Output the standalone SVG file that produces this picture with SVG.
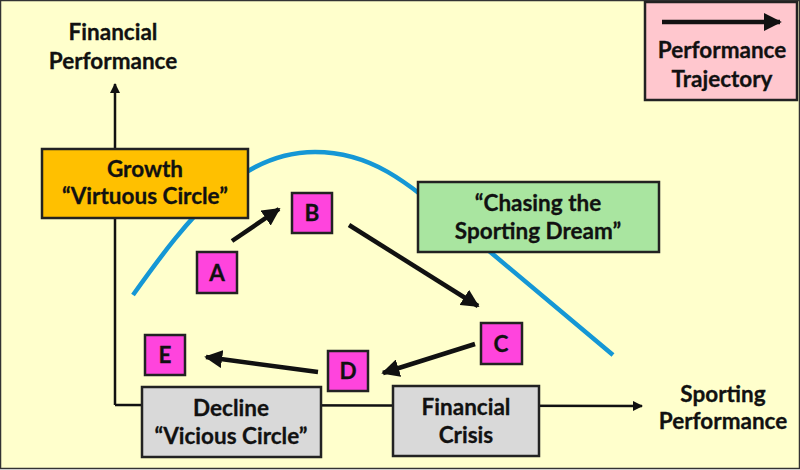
<svg xmlns="http://www.w3.org/2000/svg" width="800" height="470" viewBox="0 0 800 470">
<defs>
<style>
.t{font-family:Lato,"Liberation Sans",sans-serif;font-weight:bold;font-size:22.5px;fill:#111;text-anchor:middle;stroke:#111;stroke-width:0.3}
.box{stroke:#222;stroke-width:2.5}
.sq{fill:#FF44DD;stroke:#222;stroke-width:2.5}
.axis{stroke:#111;stroke-width:2.5;fill:none}
.traj{stroke:#111;stroke-width:4.5;fill:none}
</style>
<marker id="ah" viewBox="0 0 10 10" refX="9" refY="5" markerWidth="4" markerHeight="4" orient="auto" markerUnits="strokeWidth"><path d="M0,0 L10,5 L0,10 z" fill="#111"/></marker>
<marker id="th" viewBox="0 0 10 10" refX="9" refY="5" markerWidth="4" markerHeight="4" orient="auto" markerUnits="strokeWidth"><path d="M0,0 L10,5 L0,10 z" fill="#111"/></marker>
</defs>
<rect x="0.5" y="0.5" width="799" height="468" fill="#FFFFCC" stroke="#333" stroke-width="1.5"/>
<g id="connectors">
<path class="axis" d="M115,405 L115,84" marker-end="url(#ah)"/>
<path class="axis" d="M115,405 L642,406" marker-end="url(#ah)"/>
<path id="curve" d="M133,295 C190,215 240,152 315,152 C375,152 410,185 470,235 L613,355" fill="none" stroke="#1597D5" stroke-width="4.5"/>
<path class="traj" d="M232,241 L279,209" marker-end="url(#th)"/>
<path class="traj" d="M349,225 L478,306" marker-end="url(#th)"/>
<path class="traj" d="M475,344 L383,373" marker-end="url(#th)"/>
<path class="traj" d="M318,372 L206,357" marker-end="url(#th)"/>
</g>
<g id="yLabel"><text class="t" x="113" y="40">Financial</text><text class="t" x="113" y="69">Performance</text></g>
<g id="xLabel"><text class="t" x="723" y="402">Sporting</text><text class="t" x="723" y="429">Performance</text></g>
<g id="growth"><rect class="box" x="42" y="149" width="206" height="69" fill="#FFC000"/><text class="t" x="145" y="177">Growth</text><text class="t" x="145" y="204">“Virtuous Circle”</text></g>
<g id="chasing"><rect class="box" x="418" y="182" width="241" height="70" fill="#A9E5A0"/><text class="t" x="538" y="211">“Chasing the</text><text class="t" x="538" y="239">Sporting Dream”</text></g>
<g id="decline"><rect class="box" x="142" y="387" width="179" height="70" fill="#D9D9D9"/><text class="t" x="231" y="416">Decline</text><text class="t" x="231" y="444">“Vicious Circle”</text></g>
<g id="crisis"><rect class="box" x="393" y="386" width="146" height="70" fill="#D9D9D9"/><text class="t" x="466" y="415">Financial</text><text class="t" x="466" y="443">Crisis</text></g>
<g id="legend"><rect class="box" x="645" y="2" width="152" height="98" fill="#FFC7CE"/><path class="traj" d="M662,22 L780,22" marker-end="url(#th)"/><text class="t" x="722" y="58">Performance</text><text class="t" x="722" y="87">Trajectory</text></g>
<g id="A"><rect class="sq" x="197" y="252" width="40" height="41"/><text class="t" x="217" y="281">A</text></g>
<g id="B"><rect class="sq" x="292" y="193" width="40" height="40"/><text class="t" x="312" y="221">B</text></g>
<g id="C"><rect class="sq" x="481" y="323" width="41" height="41"/><text class="t" x="501" y="352">C</text></g>
<g id="D"><rect class="sq" x="328" y="351" width="40" height="40"/><text class="t" x="348" y="379">D</text></g>
<g id="E"><rect class="sq" x="145" y="335" width="40" height="40"/><text class="t" x="165" y="363">E</text></g>
</svg>
